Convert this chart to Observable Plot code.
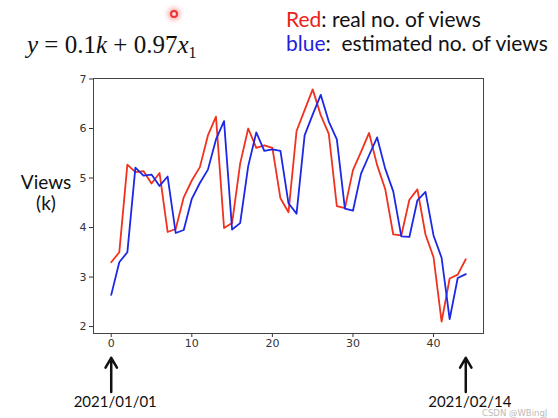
<!DOCTYPE html>
<html><head><meta charset="utf-8">
<script src="https://cdn.jsdelivr.net/npm/d3@7"></script>
<script src="https://cdn.jsdelivr.net/npm/@observablehq/plot@0.6"></script>
<style>
body{margin:0;background:#fff;}
#wrap{position:relative;width:558px;height:418px;overflow:hidden;background:#fff;}
.t{position:absolute;white-space:nowrap;}
#eq{left:27px;top:31px;font-family:"Liberation Serif","DejaVu Serif",serif;font-size:25px;color:#111;}
#eq sub{font-size:16px;vertical-align:-5px;line-height:0;}
.leg{font-family:Lato,"Open Sans",sans-serif;font-size:21px;color:#111;left:286px;line-height:24px;}
#ylab{left:16px;top:171px;font-family:Lato,"Open Sans",sans-serif;font-size:19px;color:#111;text-align:center;line-height:21px;width:60px;}
#wm{left:482px;top:408px;font-family:"DejaVu Sans",sans-serif;font-size:8.5px;color:#bbb;}
#dot{position:absolute;left:170px;top:10px;width:8px;height:8px;border-radius:50%;border:2px solid #e33;box-shadow:0 0 5px 2px rgba(255,80,80,0.5);box-sizing:border-box;background:#fdd;}
</style></head>
<body><div id="wrap"></div>
<script>
const days = d3.range(45);
const realViews = [3.30,3.50,5.27,5.12,5.14,4.89,5.10,3.91,3.97,4.61,4.95,5.22,5.86,6.24,3.99,4.09,5.29,6.00,5.61,5.66,5.61,4.59,4.31,5.95,6.37,6.79,6.27,5.89,4.43,4.39,5.16,5.53,5.91,5.26,4.78,3.86,3.84,4.56,4.77,3.86,3.40,2.10,2.97,3.05,3.36];
const estViews = [2.64,3.30,3.50,5.21,5.05,5.07,4.84,5.03,3.89,3.95,4.58,4.90,5.17,5.78,6.15,3.96,4.09,5.24,5.92,5.55,5.58,5.55,4.49,4.28,5.86,6.28,6.68,6.14,5.78,4.38,4.34,5.09,5.46,5.82,5.19,4.73,3.82,3.81,4.55,4.72,3.84,3.39,2.15,2.98,3.06];
const xTicks = [0,10,20,30,40];
const yTicks = [2,3,4,5,6,7];
const dateLabels = ["2021/01/01","2021/02/14"];
const arrowSpan = [0.68, 1.37];

const real = days.map((d,i)=>({day:d, v:realViews[i]}));
const est = days.map((d,i)=>({day:d, v:estViews[i]}));
const ends = [{day:days[0], label:dateLabels[0]},{day:days[days.length-1], label:dateLabels[1]}];

const chart = Plot.plot({
  width:558, height:418,
  marginLeft:93, marginRight:75, marginTop:78, marginBottom:85,
  style:{fontFamily:"DejaVu Sans, sans-serif", fontSize:"11px", color:"#333", background:"#fff", overflow:"visible"},
  x:{domain:[-2.2,46.2]},
  y:{domain:[1.86,7.01]},
  marks:[
    Plot.axisX({ticks:xTicks, tickFormat:"d", tickSize:4, tickPadding:2, label:null, stroke:"#333", fill:"#333"}),
    Plot.axisY({ticks:yTicks, tickFormat:"d", tickSize:4, tickPadding:3, label:null, stroke:"#333", fill:"#333"}),
    Plot.line(real, {x:"day", y:"v", stroke:"#f0321e", strokeWidth:1.8}),
    Plot.line(est, {x:"day", y:"v", stroke:"#1c28e6", strokeWidth:1.8}),
    Plot.frame({stroke:"#444", strokeWidth:1}),
    Plot.arrow(ends, {x1:"day", x2:"day", y1:()=>arrowSpan[0], y2:()=>arrowSpan[1], stroke:"#111", strokeWidth:2.5, headLength:9, clip:false}),
    Plot.text(ends, {x:"day", text:"label", frameAnchor:"bottom", dy:73, dx:4, fontSize:15, fill:"#111", fontFamily:"Lato, 'Open Sans', sans-serif", clip:false})
  ]
});
const wrap = document.getElementById("wrap");
wrap.appendChild(chart);
wrap.insertAdjacentHTML("beforeend", `
<div class="t" id="eq"><i>y</i> = 0.1<i>k</i> + 0.97<i>x</i><sub>1</sub></div>
<div id="dot"></div>
<div class="t leg" style="top:7px"><span style="color:#e8231a">Red</span>: real no. of views</div>
<div class="t leg" style="top:31px"><span style="color:#1f1fe0">blue</span>:&nbsp; estimated no. of views</div>
<div class="t" id="ylab">Views<br>(k)</div>
<div class="t" id="wm">CSDN @WBingJ</div>
`);
</script></body></html>
